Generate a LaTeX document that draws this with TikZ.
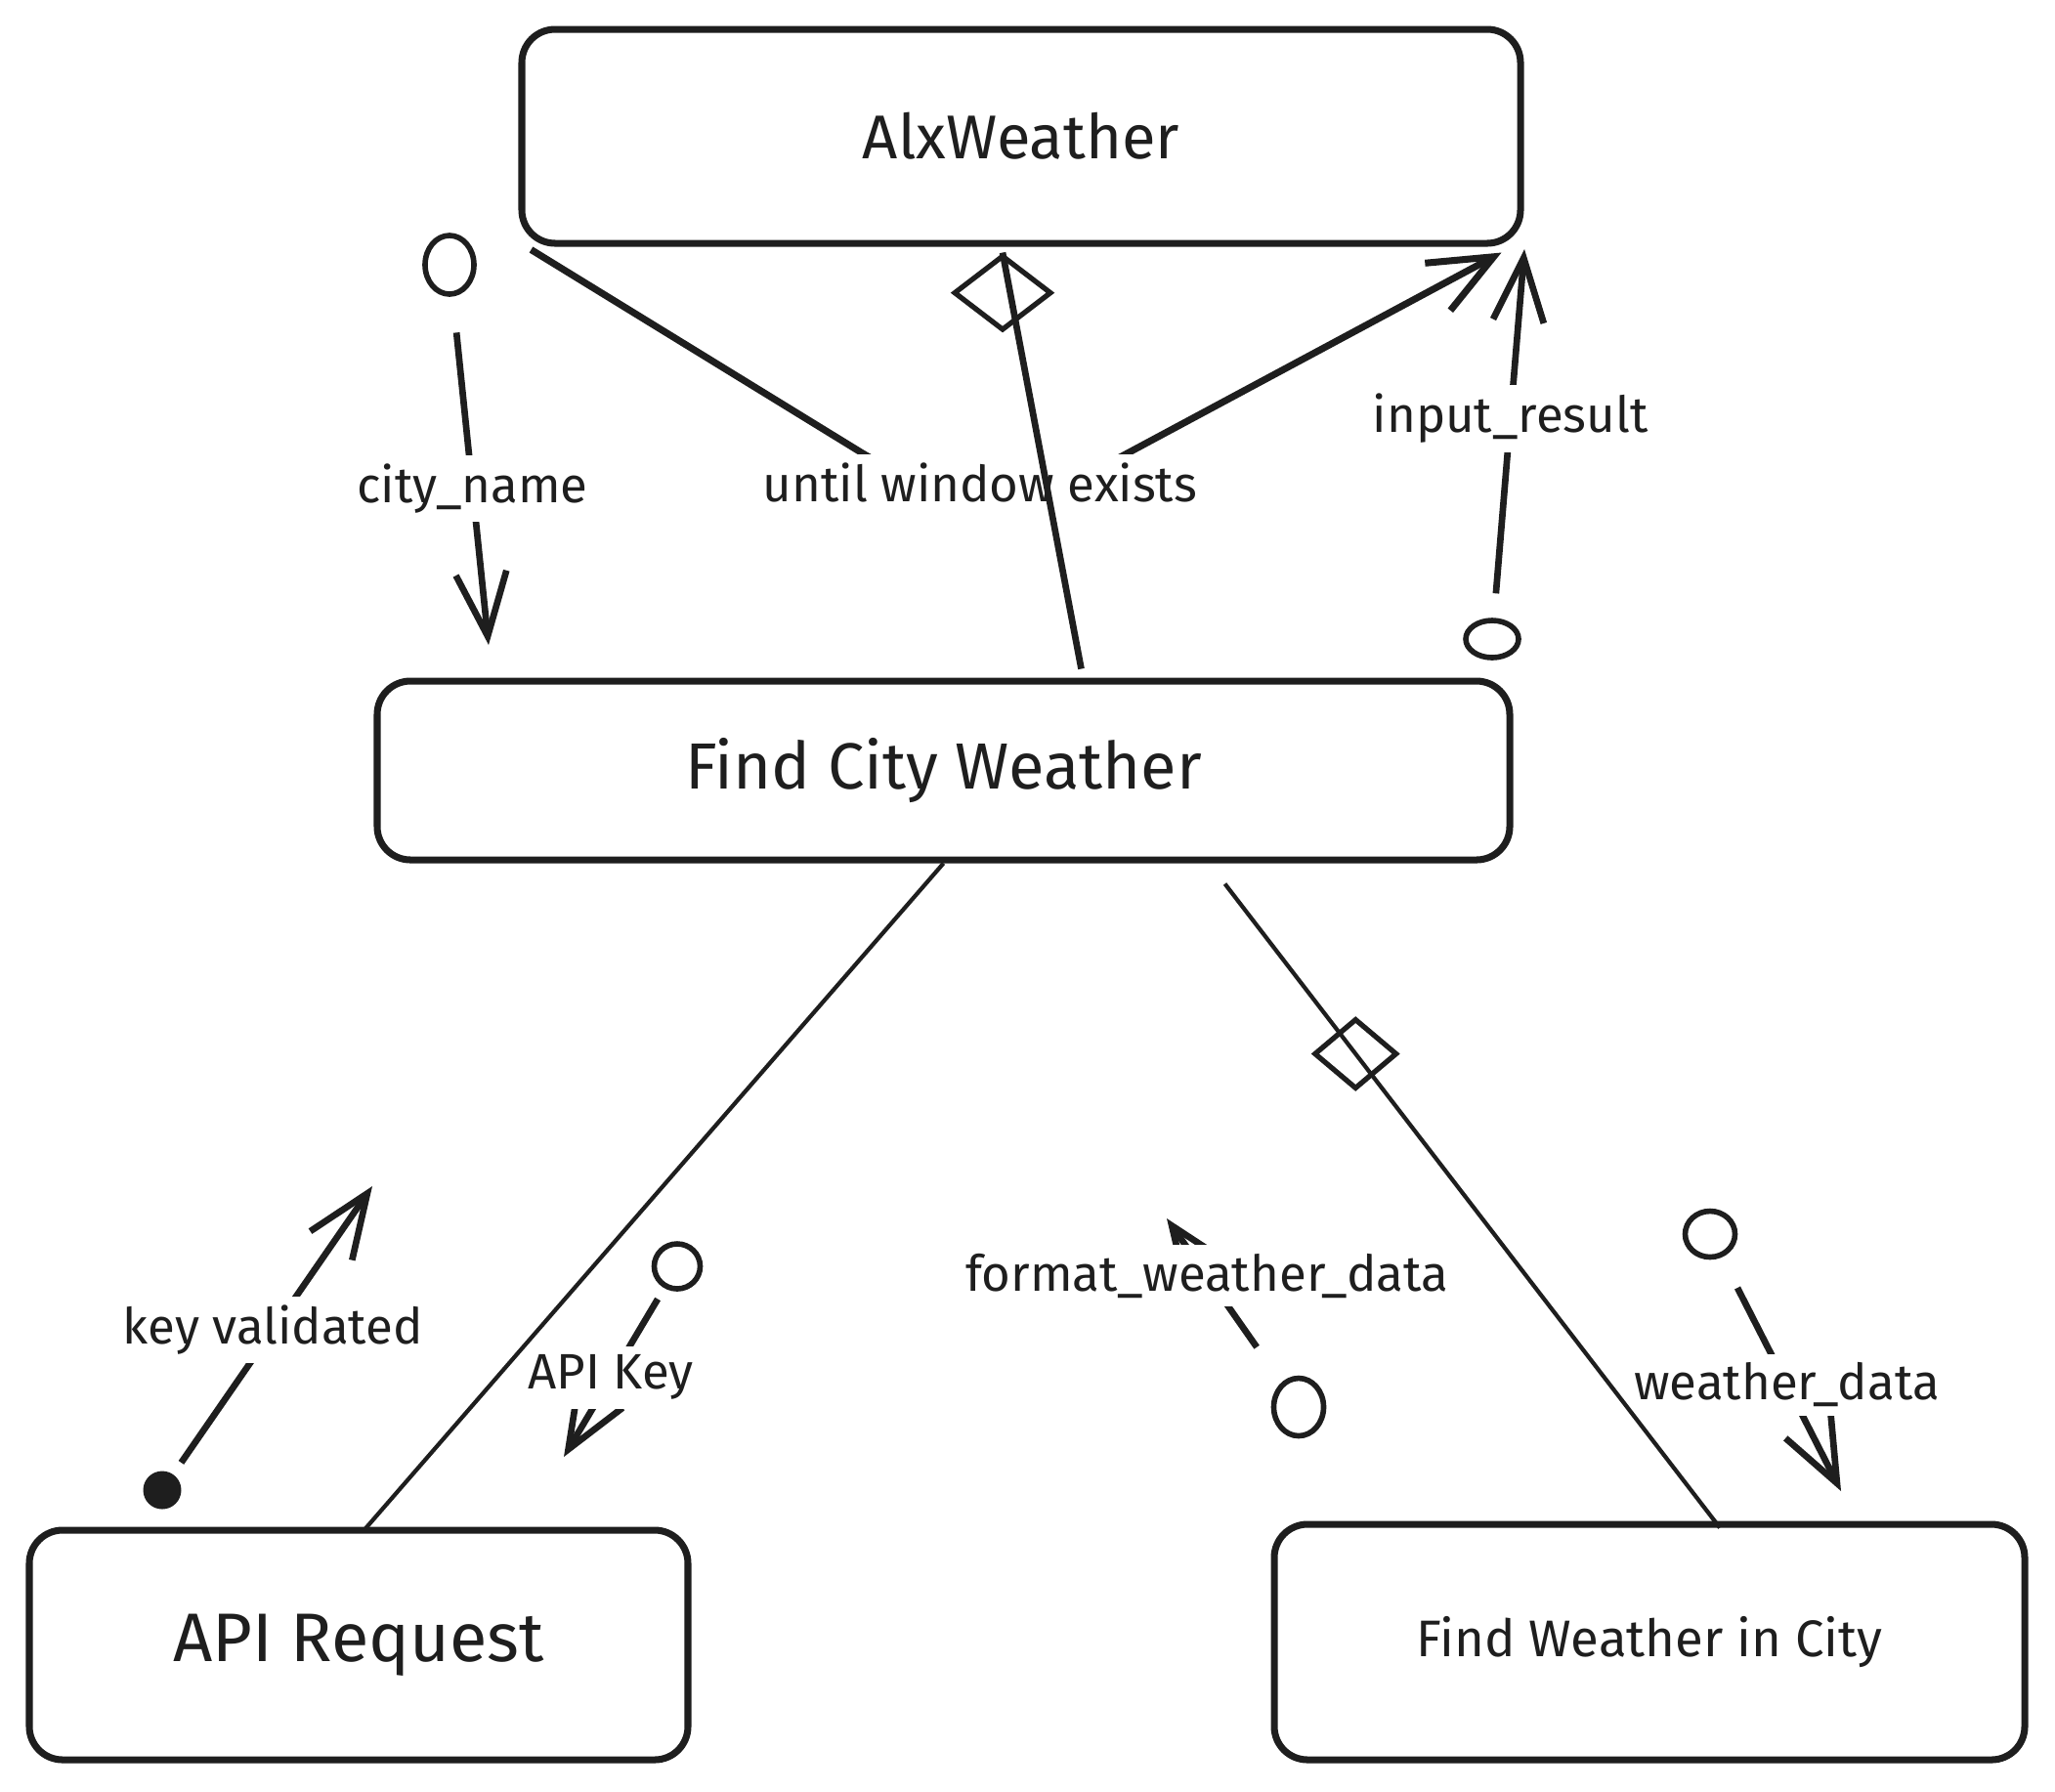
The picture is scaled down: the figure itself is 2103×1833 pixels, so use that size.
\documentclass[tikz,border=0pt]{standalone}
\usepackage{fontspec}
\setmainfont{Fira Sans}
\usetikzlibrary{arrows.meta,positioning,calc,shapes.geometric}
\definecolor{ink}{RGB}{30,30,30}
\tikzset{
  modblk/.style={draw=ink, line width=2pt, rounded corners=3.4mm, text=ink,
                 font=\fontsize{18}{22}\selectfont},
  callln/.style={ink, line width=1.2pt},
  keyln/.style={ink, line width=1.9pt},
  loopln/.style={ink, line width=2pt, rounded corners=15mm,
                 -{Straight Barb[length=6.5mm, width=5.5mm]}},
  dataarr/.style={ink, line width=1.9pt, -{Straight Barb[length=6.5mm, width=5.2mm]}},
  dlab/.style={font=\fontsize{14.5}{16}\selectfont, text=ink, fill=white, inner sep=2.5pt},
  dflag/.style={ellipse, draw=ink, line width=1.6pt, inner sep=0pt},
  cflag/.style={circle, fill=ink, inner sep=0pt, minimum size=3.9mm},
  dmdnode/.style={diamond, draw=ink, line width=1.5pt, inner sep=0pt},
}

\begin{document}
\begin{tikzpicture}[x=0.1mm, y=-0.1mm]
    \fill[white] (0,0) rectangle (2103,1833);
    \useasboundingbox (0,0) rectangle (2103,1833);

    \node[modblk, minimum width=102.2mm, minimum height=21.9mm] (alx) at (1045,139.5) {AlxWeather};
    \node[modblk, minimum width=115.9mm, minimum height=18.3mm,
          font=\fontsize{19}{22}\selectfont] (fcw) at (965.5,788.5) {Find City Weather};
    \node[modblk, minimum width=67.4mm, minimum height=23.5mm,
          font=\fontsize{20}{24}\selectfont] (apireq) at (367,1683.5) {API Request};
    \node[modblk, minimum width=76.8mm, minimum height=24.1mm,
          font=\fontsize{15}{18}\selectfont] (fwic) at (1688,1680.5) {Find Weather in City};

    \node[dflag, minimum width=5mm, minimum height=6mm] (cnflag) at (460,271) {};
    \node[dflag, minimum width=5.4mm, minimum height=3.8mm] (irflag) at (1527,654) {};
    \node[dflag, minimum width=4.7mm, minimum height=4.6mm] (akflag) at (693,1296) {};
    \node[dflag, minimum width=5.1mm, minimum height=5.9mm] (fwflag) at (1329,1440) {};
    \node[dflag, minimum width=5.1mm, minimum height=4.7mm] (wdflag) at (1750,1263) {};
    \node[cflag] (kvflag) at (166,1525) {};

    \coordinate (cnend) at (500,660);
    \coordinate (irend) at (1560,255);
    \coordinate (kvend) at (381,1214);
    \coordinate (akend) at (577,1491);
    \coordinate (fwend) at (1194,1247);
    \coordinate (wdend) at (1884,1526);

    \draw[loopln] ($(alx.south west)+(13,3)$) -- ($(alx.south)+(-36,289)$)
                  -- ($(alx.south east)+(-23,6)$);
    \node[dlab] (looplab) at (1003,494) {until window exists};

    \draw[dataarr, shorten <=3.7mm] (cnflag) -- (cnend) node[dlab, pos=0.55] {city\_name};
    \draw[dataarr, shorten <=2.5mm] (irflag) -- (irend) node[dlab, pos=0.54] {input\_result};
    \draw[dataarr, shorten <=1.4mm] (kvflag) -- (kvend) node[dlab, pos=0.5] {key validated};
    \draw[dataarr, shorten <=1.3mm] (akflag) -- (akend) node[dlab, pos=0.53] {API Key};
    \draw[dataarr, shorten <=4.4mm] (fwflag) -- (fwend) node[dlab, pos=0.65] {format\_weather\_data};
    \draw[dataarr, shorten <=3.5mm] (wdflag) -- (wdend) node[dlab, pos=0.545] {weather\_data};

    \draw[keyln] ($(fcw.north)+(141,-9)$) -- ($(alx.south)+(-19,6)$)
          node[dmdnode, at end, anchor=north, minimum width=10mm, minimum height=7.7mm] {};
    \draw[callln] (fcw.south) -- ($(apireq.north)+(6,3)$);
    \draw[callln] ($(fcw.south)+(288,21)$) -- ($(fwic.north)+(72,7)$)
          node[dmdnode, pos=0.264, minimum width=8.5mm, minimum height=7.2mm] {};
  \end{tikzpicture}
\end{document}
